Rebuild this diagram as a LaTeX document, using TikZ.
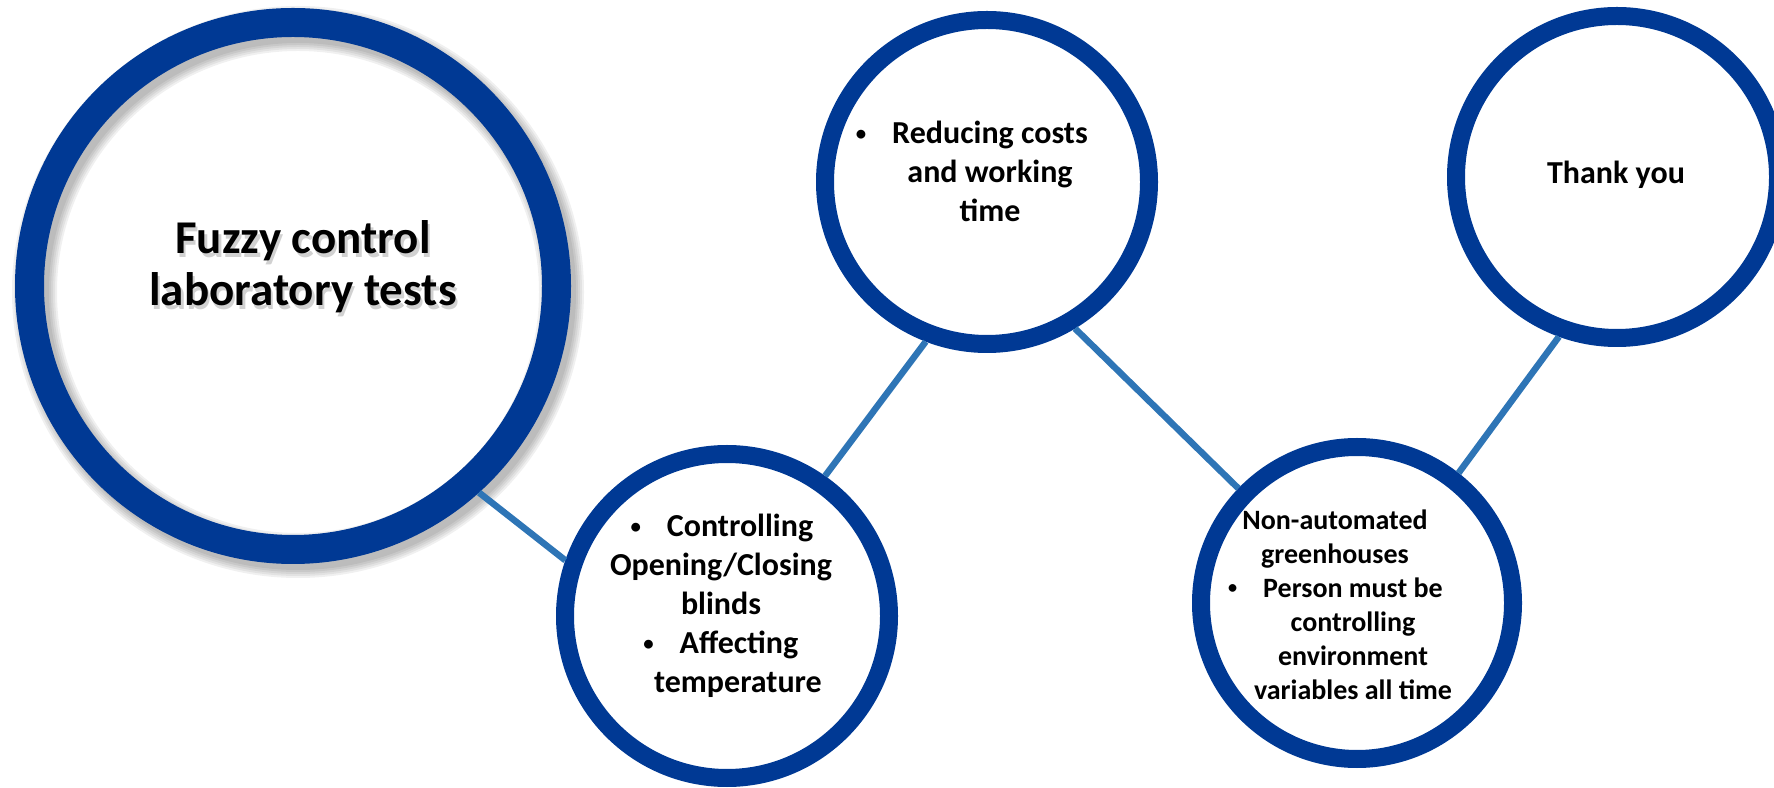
\documentclass[tikz,border=0pt]{standalone}
\usepackage{fontspec}
\setmainfont{Carlito}
\usetikzlibrary{backgrounds}
\definecolor{ringblue}{RGB}{0,57,148}
\definecolor{linkblue}{RGB}{46,117,182}
\newcommand{\dotmark}{\llap{\raisebox{0.12em}{\fontsize{0.65em}{0.65em}\selectfont\textbullet}\hspace{26pt}}}

\begin{document}
\begin{tikzpicture}[line cap=round,line join=round,x=1pt,y=1pt,
  ring/.style={circle, draw=ringblue, line width=18pt, inner sep=0pt, outer sep=auto},
  link/.style={draw=linkblue, line width=6.5pt, line cap=butt},
  txt/.style={align=center, anchor=base, font=\bfseries\fontsize{32}{39}\selectfont}]
\useasboundingbox (0,0) rectangle (1774,787);
\node[ring, line width=29pt, minimum size=527pt] (big) at (293,501) {};
\node[ring, minimum size=324pt] (ctrl) at (727,171) {};
\node[ring, minimum size=324pt] (cost) at (987,605) {};
\node[ring, minimum size=312pt] (manual) at (1357,184) {};
\node[ring, minimum size=322pt] (thanks) at (1617,610) {};
\begin{scope}[on background layer]
\foreach \w in {0,4,...,16}
  \draw[black, opacity=0.06, line width=29pt+\w pt] ([shift={(5,-6)}]big.center) circle [radius=263.5pt];
\end{scope}
\draw[link] (big.312) -- (ctrl.161);
\draw[link] (ctrl.55) -- (cost.249);
\draw[link] (cost.301) -- (manual.136);
\draw[link] (manual.52) -- (thanks.250);
\node[txt, font=\bfseries\fontsize{47}{52}\selectfont, text=black!40, opacity=0.45] (titleshadow) at ([shift={(12.5,-23.5)}]big.center) {Fuzzy control\\laboratory tests};
\node[txt, font=\bfseries\fontsize{47}{52}\selectfont] (title) at ([shift={(10,-20)}]big.center) {Fuzzy control\\laboratory tests};
\node[txt] (ctrltxt) at ([shift={(-6,-77)}]ctrl.center) {\hspace*{38pt}\dotmark Controlling\\Opening/Closing\\blinds\\\hspace*{36pt}\dotmark Affecting\\\hspace*{34pt}temperature};
\node[txt] (costtxt) at ([shift={(3,-40)}]cost.center) {\dotmark Reducing costs\\and working\\time};
\node[txt, font=\bfseries\fontsize{28}{34}\selectfont] (manualtxt) at ([shift={(-22,-96)}]manual.center) {Non-automated\\greenhouses\\\hspace*{36pt}\dotmark Person must be\\\hspace*{36pt}controlling\\\hspace*{36pt}environment\\\hspace*{36pt}variables all time};
\node[txt] (thankstxt) at ([shift={(-1,-7)}]thanks.center) {Thank you};
\end{tikzpicture}
\end{document}
